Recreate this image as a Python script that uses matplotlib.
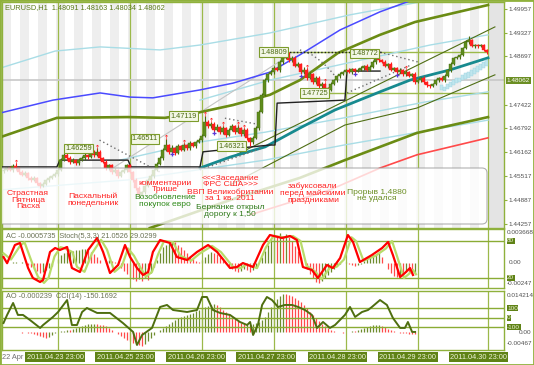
import numpy as np
import matplotlib.pyplot as plt
from matplotlib.patches import FancyBboxPatch, Rectangle

plt.rcParams['font.family'] = ['Liberation Sans', 'DejaVu Sans']

# ---------------- data (EURUSD H1, bar 0 = 22 Apr 2011) ----------------
open_first = 1.4566
close = [
    1.4569, 1.4574, 1.4569, 1.4579, 1.4574, 1.4564, 1.4556, 1.4561, 1.4548, 1.4543,
    1.4548, 1.4534, 1.4526, 1.4532, 1.4543, 1.4548, 1.4553, 1.4558, 1.4569, 1.4595,
    1.4609, 1.4601, 1.4590, 1.4595, 1.4587, 1.4595, 1.4601, 1.4609, 1.4603, 1.4617,
    1.4609, 1.4617, 1.4601, 1.4590, 1.4574, 1.4582, 1.4564, 1.4569, 1.4553, 1.4564,
    1.4569, 1.4582, 1.4564, 1.4543, 1.4521, 1.4502, 1.4510, 1.4526, 1.4543, 1.4553,
    1.4569, 1.4585, 1.4601, 1.4622, 1.4635, 1.4617, 1.4627, 1.4614, 1.4632, 1.4622,
    1.4635, 1.4627, 1.4640, 1.4632, 1.4643, 1.4648, 1.4659, 1.4696, 1.4685, 1.4691,
    1.4675, 1.4683, 1.4669, 1.4680, 1.4662, 1.4675, 1.4685, 1.4669, 1.4680, 1.4664,
    1.4675, 1.4654, 1.4643, 1.4654, 1.4680, 1.4723, 1.4768, 1.4807, 1.4823, 1.4828,
    1.4839, 1.4834, 1.4855, 1.4866, 1.4871, 1.4860, 1.4866, 1.4845, 1.4850, 1.4828,
    1.4834, 1.4813, 1.4823, 1.4802, 1.4813, 1.4791, 1.4797, 1.4786, 1.4781, 1.4797,
    1.4807, 1.4818, 1.4823, 1.4828, 1.4834, 1.4828, 1.4836, 1.4831, 1.4834, 1.4839,
    1.4845, 1.4834, 1.4842, 1.4855, 1.4866, 1.4860, 1.4855, 1.4845, 1.4850, 1.4834,
    1.4839, 1.4828, 1.4834, 1.4823, 1.4828, 1.4818, 1.4823, 1.4802, 1.4807, 1.4813,
    1.4802, 1.4794, 1.4791, 1.4797, 1.4807, 1.4813, 1.4807, 1.4818, 1.4834, 1.4850,
    1.4866, 1.4868, 1.4874, 1.4892, 1.4908, 1.4913, 1.4897, 1.4900, 1.4897, 1.4900,
    1.4887, 1.4881,
]
# wicks in pips above / below the body
up_wick = [
    4, 3, 5, 6, 8, 3, 4, 5, 3, 4,   6, 3, 4, 5, 3, 4, 3, 5, 4, 6,
    5, 8, 4, 6, 3, 5, 4, 6, 3, 5,   4, 9, 4, 3, 5, 4, 3, 6, 3, 4,
    5, 3, 4, 3, 5, 6, 4, 3, 5, 4,   3, 5, 4, 6, 16, 4, 7, 3, 6, 4,
    5, 3, 6, 4, 3, 5, 4, 16, 6, 5,  4, 7, 3, 6, 4, 5, 6, 4, 7, 3,
    5, 4, 3, 4, 5, 6, 5, 6, 4, 5,   6, 4, 5, 3, 6, 10, 5, 4, 6, 3,
    7, 4, 5, 3, 6, 4, 5, 3, 4, 5,   4, 3, 5, 4, 3, 5, 4, 3, 4, 5,
    3, 4, 5, 4, 3, 11, 4, 5, 3, 4,  3, 4, 5, 3, 6, 4, 3, 5, 4, 3,
    4, 3, 4, 3, 4, 3, 4, 5, 3, 4,   3, 4, 3, 4, 5, 12, 4, 3, 4, 3,
    4, 3,
]
low_wick = [
    5, 4, 3, 6, 4, 5, 3, 4, 6, 5,   4, 6, 5, 3, 4, 5, 3, 4, 5, 4,
    3, 5, 4, 3, 5, 4, 3, 5, 4, 3,   5, 4, 6, 3, 5, 4, 6, 3, 5, 4,
    3, 5, 4, 6, 5, 8, 4, 5, 3, 4,   5, 3, 4, 5, 3, 6, 4, 5, 3, 4,
    3, 5, 4, 3, 4, 3, 5, 3, 6, 4,   5, 3, 6, 4, 5, 3, 4, 6, 3, 5,
    4, 6, 11, 4, 3, 4, 3, 4, 5, 3,  4, 3, 5, 4, 3, 4, 5, 3, 4, 6,
    4, 5, 3, 6, 4, 5, 4, 6, 9, 4,   3, 4, 5, 3, 4, 3, 5, 4, 3, 4,
    5, 3, 4, 3, 4, 5, 3, 4, 5, 3,   4, 5, 3, 4, 5, 3, 4, 5, 3, 4,
    5, 4, 6, 3, 4, 5, 3, 4, 3, 5,   4, 3, 5, 4, 3, 4, 3, 5, 4, 3,
    4, 5,
]
# pale overlay candles of the second series (bars 146..161)
ghost_bar = list(range(146, 162))
ghost_open = [1.4781, 1.4778, 1.4784, 1.4789, 1.4794, 1.4799, 1.4802, 1.4807,
              1.4810, 1.4813, 1.4818, 1.4823, 1.4828, 1.4834, 1.4839, 1.4845]
ghost_close = [1.4794, 1.4789, 1.4797, 1.4802, 1.4807, 1.4813, 1.4813, 1.4821,
               1.4826, 1.4828, 1.4834, 1.4839, 1.4845, 1.4850, 1.4855, 1.4860]

# moving averages / envelopes (bar, price)
blue_bar = [-1, 16.5, 32.2, 42.2, 49.8, 65.5, 76.5, 88.8, 98.8, 112.2, 125.5, 136.2]
blue_val = [1.4720, 1.4754, 1.4773, 1.4762, 1.4760, 1.4781, 1.4799, 1.4828, 1.4874, 1.4940, 1.4988, 1.5019]
olive_hi_bar = [-1, 17.8, 41.5, 53.8, 65.5, 76.5, 88.8, 98.8, 111.5, 125.5, 137.2, 161.5]
olive_hi_val = [1.4656, 1.4707, 1.4709, 1.4707, 1.4722, 1.4741, 1.4768, 1.4807, 1.4879, 1.4927, 1.4961, 1.5006]
olive_lo_bar = [48.8, 75.5, 98.8, 113.8, 137.8, 161.5]
olive_lo_val = [1.4415, 1.4489, 1.4548, 1.4595, 1.4667, 1.4709]
red_bar = [82.2, 108.8, 125.5, 137.8, 161.5]
red_val = [1.4450, 1.4516, 1.4574, 1.4609, 1.4654]
teal_bar = [65.5, 75.5, 87.2, 98.8, 110.5, 125.5, 135.5, 148.8, 161.5]
teal_val = [1.4574, 1.4603, 1.4630, 1.4680, 1.4728, 1.4776, 1.4807, 1.4834, 1.4866]
cyan_a_bar = [-1, 17.2, 32.2, 52.2, 65.5, 88.8, 115.5, 138.8]
cyan_a_val = [1.4839, 1.4884, 1.4895, 1.4887, 1.4900, 1.4932, 1.4980, 1.5014]
cyan_b_bar = [65.5, 88.8, 114.5, 142.2, 161.5]
cyan_b_val = [1.4754, 1.4807, 1.4852, 1.4900, 1.4927]
cyan_c_bar = [38.8, 65.5, 87.2, 113.5, 140.5, 161.5]
cyan_c_val = [1.4595, 1.4643, 1.4669, 1.4707, 1.4749, 1.4776]
cyan_d_bar = [-1, 42.2, 87.2, 113.5, 161.5]
cyan_d_val = [1.4516, 1.4543, 1.4595, 1.4635, 1.4701]
chan_up_bar = [75.5, 163.8]
chan_up_val = [1.4601, 1.4948]
chan_lo_bar = [75.5, 113.8, 137.8, 163.8]
chan_lo_val = [1.4529, 1.4688, 1.4733, 1.4821]
gray_bar = [35.5, 95.5]
gray_val = [1.4569, 1.4874]
step_bar = [-1, 17.8, 18.8, 41.5, 42.5, 65.5, 66.5, 88.8, 90.5, 91.2, 113.8, 114.5, 125.5]
step_val = [1.4577, 1.4577, 1.4595, 1.4595, 1.4577, 1.4577, 1.4617, 1.4635, 1.4635, 1.4746, 1.4754, 1.4831, 1.4831]
dots = [
    ([98.8, 100.8, 102.8, 104.8, 106.8, 108.8, 110.8],
     [1.4887, 1.4881, 1.4874, 1.4863, 1.4850, 1.4834, 1.4815]),
    ([114.5, 135.8], [1.4773, 1.4847]),
    ([125.5, 138.2], [1.4881, 1.4855]),
    ([32, 52], [1.4648, 1.4564]),
    ([65.5, 86.2], [1.4569, 1.4627]),
    ([73.8, 84.8], [1.4706, 1.4690]),
]
top_dots_bar = [94, 126]
top_dots_val = [1.48809, 1.48809]

bid = 1.48062
res_level = 1.48809
sup_level = 1.47725

fractal_bars = [4, 21, 31, 54, 60, 67, 69, 73, 78, 80, 94, 101, 107, 124, 134]
blue_mark_bars = [56, 70, 99, 117, 131]

price_labels = ['1.46259', '1.46511', '1.47119', '1.46321', '1.48809', '1.47725', '1.48772']
price_label_right = [29.5, 51.5, 64.5, 80.5, 94.5, 108.2, 124.8]

price_ticks = [1.49957, 1.49327, 1.48697, 1.47422, 1.46792, 1.46162, 1.45517, 1.44887, 1.44257]

day_lines = [18.3, 42.0, 66.3, 90.3, 114.0, 138.3, 161.5]
time_labels = ['2011.04.23 23:00', '2011.04.25 23:00', '2011.04.26 23:00', '2011.04.27 23:00',
               '2011.04.28 23:00', '2011.04.29 23:00', '2011.04.30 23:00']
time_label_bar = [17.2, 40.5, 64.2, 87.5, 111.2, 134.8, 158.2]

# AC (x1e-4) and AO (x1e-3) per bar, bars 0..137
ac = [
    0, 0.5, 0.2, 1.0, 1.2, 0.6, 0.8, -0.5, -2.4, -4.8,
    -7.2, -9.6, -12, -10.8, -8.4, -6, -3, 0, 4.8, 9.6,
    12, 13, 14.5, 15, 15.5, 16, 16.5, 17, 15.6, 13.2,
    10.8, 7.2, 3.6, 0.5, 2.4, 3.6, 3.0, 1.2, -2.4, -6,
    -9.6, -13.2, -16.8, -19.2, -21.6, -19, -21, -18, -20, -12,
    -4.8, 3.6, 12, 19.2, 22, 25, 26.4, 25, 22, 19,
    16, 12, 8.4, 4.8, 2.4, 1.5, 3.6, 7.2, 10.8, 13.2,
    12, 10.8, 7.2, 3.6, 0, -3.6, -7.2, -9.6, -10.8, -9.6,
    -7.2, -8.4, -10.8, -8.4, -4.8, 0, 7.2, 14.4, 21.6, 28.8,
    33.6, 33, 36, 32, 34.8, 31, 26.4, 20.4, 14.4, 7.2,
    0, -7.2, -13.2, -18, -22.8, -24, -21.6, -18, -14.4, -10.8,
    -7.2, -3.6, -1.2, 0, 1.2, -1, -2, -3, -2, -1,
    2.4, 4.8, 7.2, 9.6, 10.8, 12, 7.2, 0, -7.2, -12,
    -15.6, -16.8, -14.4, -15.6, -10.8, -12, -14.4, -13.2,
]
ao = [
    0.0, 0.1, -0.1, 0.1, 0.0, -0.1, -0.2, -0.1, -0.2, -0.4,
    -0.8, -1.2, -1.6, -2.0, -2.4, -2.0, -1.2, -0.4, 0.2, 0.4,
    0.6, 0.8, 0.8, 1.2, 1.6, 2.0, 2.4, 2.8, 3.0, 3.2,
    3.3, 3.1, 2.9, 2.7, 2.4, 1.6, 0.8, 0.0, -0.8, -1.6,
    -2.4, -3.0, -3.6, -4.2, -4.8, -5.2, -5.5, -4.7, -3.5, -2.4,
    -1.2, 0.0, 0.8, 1.6, 2.4, 3.1, 3.9, 4.7, 5.5, 5.9,
    6.3, 6.7, 7.1, 7.5, 8.3, 8.7, 9.4, 9.8, 10.2, 10.6,
    11.0, 10.6, 9.8, 8.7, 7.9, 7.1, 5.9, 5.1, 4.3, 3.5,
    3.1, 3.2, 2.8, 3.1, 3.5, 3.9, 4.7, 5.9, 7.9, 9.8,
    11.8, 13.0, 14.1, 14.9, 14.9, 14.5, 14.1, 13.4, 12.6, 11.8,
    10.6, 9.4, 7.9, 6.7, 5.5, 4.3, 3.1, 2.4, 1.6, 0.8,
    0.4, 0.2, 0.0, -0.2, 0.0, 0.2, 0.4, 0.4, 0.8, 1.2,
    1.6, 2.0, 2.4, 2.6, 2.7, 2.8, 2.4, 2.0, 1.2, 0.8,
    0.4, 0.0, -0.2, -0.4, -0.4, -0.6, -0.6, -0.8,
]
stoch_bar = [0, 1.2, 3.8, 5.5, 8.2, 9.8, 12.2, 13.2, 15.5, 17.2, 18.8, 21.2, 22.8, 25.5,
             28.2, 31.2, 33.2, 35.5, 38.2, 40.5, 42.2, 44.5, 46.5, 48.2, 49.8, 52.2, 55.5,
             57.8, 61.2, 64.5, 68.2, 71.2, 75.5, 77.8, 79.8, 83.2, 86.5, 88.8, 92.8, 95.5,
             97.8, 99.8, 102.8, 104.8, 107.8, 109.8, 112.2, 114.8, 116.5, 118.8, 122.8,
             126.2, 128.2, 129.8, 132.2, 133.8, 135.5, 136.5]
stoch_val = [54, 44, 73.5, 76.8, 36.2, 20, 13.5, 16.8, 62.2, 68.6, 65.4, 70.3, 36.2, 29.7,
             65.4, 84.9, 62.2, 28.1, 41.1, 73.5, 54, 36.2, 24.9, 29.7, 62.2, 81.6, 76.8,
             54, 49.2, 62.2, 73.5, 62.2, 36.2, 37.8, 44.3, 37.8, 73.5, 89.7, 84.9, 88.1,
             81.6, 37.8, 33.0, 20, 41.1, 36.2, 52.4, 89.7, 78.4, 45.9, 57.3,
             68.6, 78.4, 57.3, 21.6, 28.1, 36.2, 24.9]
signal_bar = [0, 2.5, 5.5, 7, 9.5, 11.5, 13.5, 15, 17, 19, 20.5, 23, 24.5, 27, 29.5, 32.5,
              34.5, 37, 39.5, 41.5, 43.5, 45.5, 47.5, 49.5, 51.5, 53.5, 56.5, 59, 62.5,
              65.5, 69.5, 72.5, 76.5, 79, 81, 84.5, 87.5, 90, 93.5, 96.5, 99, 101, 104,
              106, 109, 111, 113.5, 116, 117.5, 120, 124, 127.5, 129.5, 131, 133.5, 135,
              136.5, 137.5]
signal_val = [60, 50, 72, 78, 45, 22, 12, 20, 55, 70, 68, 62, 38, 30, 60, 82,
              66, 30, 40, 68, 56, 38, 22, 30, 58, 80, 78, 56, 48,
              60, 72, 62, 38, 36, 42, 36, 70, 88, 86, 88, 80, 40, 30,
              18, 38, 38, 50, 86, 80, 48, 56, 68, 80, 58, 20, 26,
              33, 26]
cci_bar = [0, 1.2, 3.2, 4.8, 6.5, 8.8, 12.2, 13.2, 16.5, 18.2, 21.2, 22.8, 24.5, 26.2,
           27.8, 31.2, 35.5, 39.8, 43.2, 44.5, 46.2, 49.5, 52.2, 54.5, 56.5, 61.2, 64.5,
           66.2, 67.8, 69.8, 72.2, 75.5, 78.8, 81.2, 82.2, 83.2, 84.8, 86.2, 87.8, 89.5,
           91.5, 93.8, 96.2, 98.2, 100.5, 102.8, 104.5, 106.5, 108.8, 110.5, 113.8,
           115.5, 117.2, 119.5, 121.5, 122.8, 125.5, 127.8, 129.8, 132.2, 133.8, 134.8,
           136.2, 137.2]
cci_val = [-53, 32, 158, 32, 32, -21, -105, -74, 11, 63, 189, -74, -74, 63,
           105, 53, 53, -53, -147, -284, -179, -105, 116, 137, 84, 63, 84,
           221, 221, 84, 53, 32, -42, -74, -42, -179, -74, 137, 221, 189,
           116, 137, 137, 116, 84, 32, -105, -42, -105, -74, 32,
           116, 11, 63, 84, 116, 189, 137, 0, -105, -105, -42,
           -147, -147]

notes = [
    ('Страстная\nПятница\nПасха', 8.2, 1.4489, '#ff2020'),
    ('Пасхальный\nпонедельник', 29.8, 1.4490, '#ff2020'),
    ('комментарии\nТрише', 53.8, 1.4525, '#ff2020'),
    ('Возобновление\nпокупок евро', 53.8, 1.4487, '#2f8a1a'),
    ('<<<Заседание\nФРС США>>>\nВВП Великобритании\nза 1 кв. 2011', 75.5, 1.4520, '#ff2020'),
    ('Бернанке открыл\nдорогу к 1,50', 75.5, 1.4460, '#2f7a1a'),
    ('забуксовали\nперед майскими\nпраздниками', 103.2, 1.4508, '#ff2020'),
    ('Прорыв 1,4880\nне удался', 124.5, 1.4501, '#6b8e23'),
]

# ---------------- figure ----------------
W, H = 534, 365
FS = 5.3
FSR = 4.6   # right scale labels
OLIVE = '#8fb13c'
fig = plt.figure(figsize=(W / 100, H / 100), dpi=100)
fig.patch.set_facecolor('white')


def frame(top, bottom):
    return [2 / W, 1 - bottom / H, 502 / W, (bottom - top) / H]


ax = fig.add_axes(frame(2, 228))
ax1 = fig.add_axes(frame(229, 288))
ax2 = fig.add_axes(frame(291, 350))
for a in (ax, ax1, ax2):
    a.set_xlim(-0.5, 166.83)
    a.set_xticks([])
    for s in a.spines.values():
        s.set_color(OLIVE)
        s.set_linewidth(1.0)
    for d in day_lines:
        a.axvline(d, color='#9cb94a', lw=0.9, zorder=1)

# ---- main price panel ----
ax.set_ylim(1.44151, 1.50140)
for k in range(0, 162, 6):
    ax.axvspan(k - 0.5, k + 2.5, fc='#eeeeee', lw=0, zorder=0)
ax.axvspan(161.5, 166.83, fc='#e4e4e4', lw=0, zorder=0)

ax.axhline(bid, color='#c8c8c8', lw=1.2, zorder=1)
ax.hlines(res_level, 85, 161.5, color='#9cb94a', lw=1.0, zorder=2)
ax.hlines(sup_level, 108, 161.5, color='#9cb94a', lw=1.0, zorder=2)

for xs, ys in [(cyan_a_bar, cyan_a_val), (cyan_b_bar, cyan_b_val),
               (cyan_c_bar, cyan_c_val), (cyan_d_bar, cyan_d_val)]:
    ax.plot(xs, ys, color='#a9dde6', lw=1.0, zorder=2)
ax.plot(gray_bar, gray_val, color='#c4c4c4', lw=0.8, zorder=2)
ax.plot(blue_bar, blue_val, color='#4a4aff', lw=1.1, zorder=3)
ax.plot(olive_hi_bar, olive_hi_val, color='#6b8c14', lw=1.9, zorder=3)
ax.plot(olive_lo_bar, olive_lo_val, color='#6b8c14', lw=1.9, zorder=3)
ax.plot(red_bar, red_val, color='#ff4a4a', lw=1.2, zorder=3)
ax.plot(chan_up_bar, chan_up_val, color='#4f6e14', lw=0.8, zorder=3)
ax.plot(chan_lo_bar, chan_lo_val, color='#4f6e14', lw=0.8, zorder=3)
ax.plot(teal_bar, teal_val, color='#178a8f', lw=2.0, zorder=3)
ax.plot(step_bar, step_val, color='#202020', lw=1.0, zorder=3)
for xs, ys in dots:
    ax.plot(xs, ys, color='#707070', lw=1.0, ls=(0, (1, 2)), zorder=3)
ax.plot(top_dots_bar, top_dots_val, color='#202020', lw=1.0, ls=(0, (1, 1.5)), zorder=3)

# candles
x = np.arange(len(close))
opens = np.array([open_first] + close[:-1])
closes = np.array(close)
highs = np.maximum(opens, closes) + np.array(up_wick) * 1e-4
lows = np.minimum(opens, closes) - np.array(low_wick) * 1e-4
bull = closes >= opens
wick_col = np.where(bull, '#466b0e', '#ff1a1a')
body_col = np.where(bull, '#5f8d1c', '#ff2020')
ax.vlines(x, lows, highs, colors=wick_col, lw=0.8, zorder=4)
ax.bar(x, np.maximum(np.abs(closes - opens), 0.00009), bottom=np.minimum(opens, closes),
       width=0.72, color=body_col, edgecolor=wick_col, lw=0.3, zorder=5)

g_o = np.array(ghost_open)
g_c = np.array(ghost_close)
ax.bar(ghost_bar, g_c - g_o, bottom=g_o, width=0.72, color='#bfe6ee', edgecolor='#9fd3e0',
       lw=0.3, zorder=4)

ax.scatter(fractal_bars, highs[fractal_bars] + 0.0004, marker=r'$\uparrow$', s=14,
           color='#ff2020', lw=0, zorder=6)
ax.scatter(blue_mark_bars, lows[blue_mark_bars] - 0.0003, marker='+', s=8,
           color='#5a3ad8', lw=0.9, zorder=6)

# semi transparent comment box
box = FancyBboxPatch((-0.05, 1.41), 4.92, 0.56, boxstyle='round,pad=0,rounding_size=0.05',
                     transform=fig.dpi_scale_trans, fc='white', alpha=0.78,
                     ec='#9a9a9a', lw=0.8, zorder=7)
ax.add_patch(box)

for txt, bx, py, col in notes:
    ax.text(bx, py, txt, ha='center', va='center', fontsize=6.1, color=col,
            linespacing=0.95, zorder=8)

for lab, xr in zip(price_labels, price_label_right):
    ax.text(xr, float(lab), lab, ha='right', va='center', fontsize=FS, color='#4d6b12',
            bbox=dict(boxstyle='square,pad=0.18', fc='#f3f7e6', ec='#7d9c2c', lw=0.8),
            zorder=9)

ax.text(0.006, 0.975, 'EURUSD,H1  1.48091 1.48163 1.48034 1.48062', transform=ax.transAxes,
        ha='left', va='center', fontsize=FS, color='#5a7a1a', zorder=9)

ax.yaxis.tick_right()
ax.set_yticks(price_ticks)
ax.set_yticklabels([f'{v:.5f}' for v in price_ticks])
ax.tick_params(axis='y', colors=OLIVE, labelcolor='#505050', labelsize=FSR,
               length=2, width=0.8, pad=1.5)
ax.text(1.005, bid, '1.48062', transform=ax.get_yaxis_transform(), ha='left', va='center',
        fontsize=FSR, color='white', clip_on=False, zorder=10,
        bbox=dict(boxstyle='square,pad=0.15', fc='#6b8e23', ec='none'))


def boxed(a, val, txt):
    a.text(1.006, val, txt, transform=a.get_yaxis_transform(), ha='left', va='center',
           fontsize=FSR, color='#eef4d8', clip_on=False, zorder=10,
           bbox=dict(boxstyle='square,pad=0.08', fc='#5f8216', ec='none'))


def plain(a, val, txt, dx=1.01):
    a.text(dx, val, txt, transform=a.get_yaxis_transform(), ha='left', va='center',
           fontsize=FSR, color='#505050', clip_on=False, zorder=10)


def hist(a, vals, scale):
    v = np.array(vals) * scale
    idx = np.arange(len(v))
    up = np.concatenate([[True], v[1:] > v[:-1]])
    a.vlines(idx, 0, v, colors=np.where(up, '#6e8c2e', '#ff4a4a'), lw=0.9, zorder=2)


# ---- AC + Stochastic ----
ax1.set_ylim(3.78, 99.46)
ax1.set_yticks([])
ax1b = ax1.twinx()
ax1b.set_ylim(-0.0030, 0.00408)
ax1b.set_yticks([])
for s in ax1b.spines.values():
    s.set_visible(False)
ax1b.set_zorder(ax1.get_zorder() - 1)
ax1.patch.set_visible(False)
hist(ax1b, ac, 1e-4)
for lvl in (80, 20):
    ax1.axhline(lvl, color='#8aac34', lw=1.0, zorder=1)
ax1.plot(signal_bar, signal_val, color='#b8dc6a', lw=1.6, zorder=3)
ax1.plot(stoch_bar, stoch_val, color='#ff0000', lw=1.6, zorder=4)
ax1.text(0.008, 0.88, 'AC -0.0005735  Stoch(5,3,3) 21.0526 29.0299', transform=ax1.transAxes,
         ha='left', va='center', fontsize=FS, color='#6b7355', zorder=6)
plain(ax1b, 0.003668, '0.003668', 1.006)
plain(ax1b, 0.0, '0.00')
plain(ax1b, -0.00247, '-0.00247', 1.006)
boxed(ax1, 80, '80')
boxed(ax1, 20, '20')

# ---- AO + CCI ----
ax2.set_ylim(-337, 284)
ax2.set_yticks([])
ax2b = ax2.twinx()
ax2b.set_ylim(-0.00704, 0.01617)
ax2b.set_yticks([])
for s in ax2b.spines.values():
    s.set_visible(False)
ax2b.set_zorder(ax2.get_zorder() - 1)
ax2.patch.set_visible(False)
hist(ax2b, ao, 1e-3)
for lvl in (100, 0, -100):
    ax2.axhline(lvl, color='#8aac34', lw=1.0, zorder=1)
ax2.plot(cci_bar, cci_val, color='#4e6e10', lw=1.4, zorder=4)
ax2.text(0.008, 0.90, 'AO -0.000239  CCI(14) -150.1692', transform=ax2.transAxes,
         ha='left', va='center', fontsize=FS, color='#6b7355', zorder=6)
plain(ax2b, 0.014214, '0.014214', 1.006)
plain(ax2b, -0.00467, '-0.00467', 1.006)
plain(ax2b, 0.0, '0.00', 1.03)
boxed(ax2, 100, '100')
boxed(ax2, 0, '0')
boxed(ax2, -100, '-100')

# ---- time axis ----
ax2.text(-0.45, -0.12, '22 Apr', transform=ax2.get_xaxis_transform(), ha='left',
         va='center', fontsize=FS, color='#707070', clip_on=False, zorder=5)
for lab, bx in zip(time_labels, time_label_bar):
    ax2.text(bx, -0.12, lab, transform=ax2.get_xaxis_transform(), ha='center', va='center',
             fontsize=FS, color='#eef4d8', clip_on=False, zorder=6,
             bbox=dict(boxstyle='square,pad=0.15', fc='#5f8216', ec='none'))

fig.patches.append(Rectangle((0, 0), 1, 1, transform=fig.transFigure, fill=False,
                             ec=OLIVE, lw=2.0))

fig.savefig('out.png', dpi=100)
